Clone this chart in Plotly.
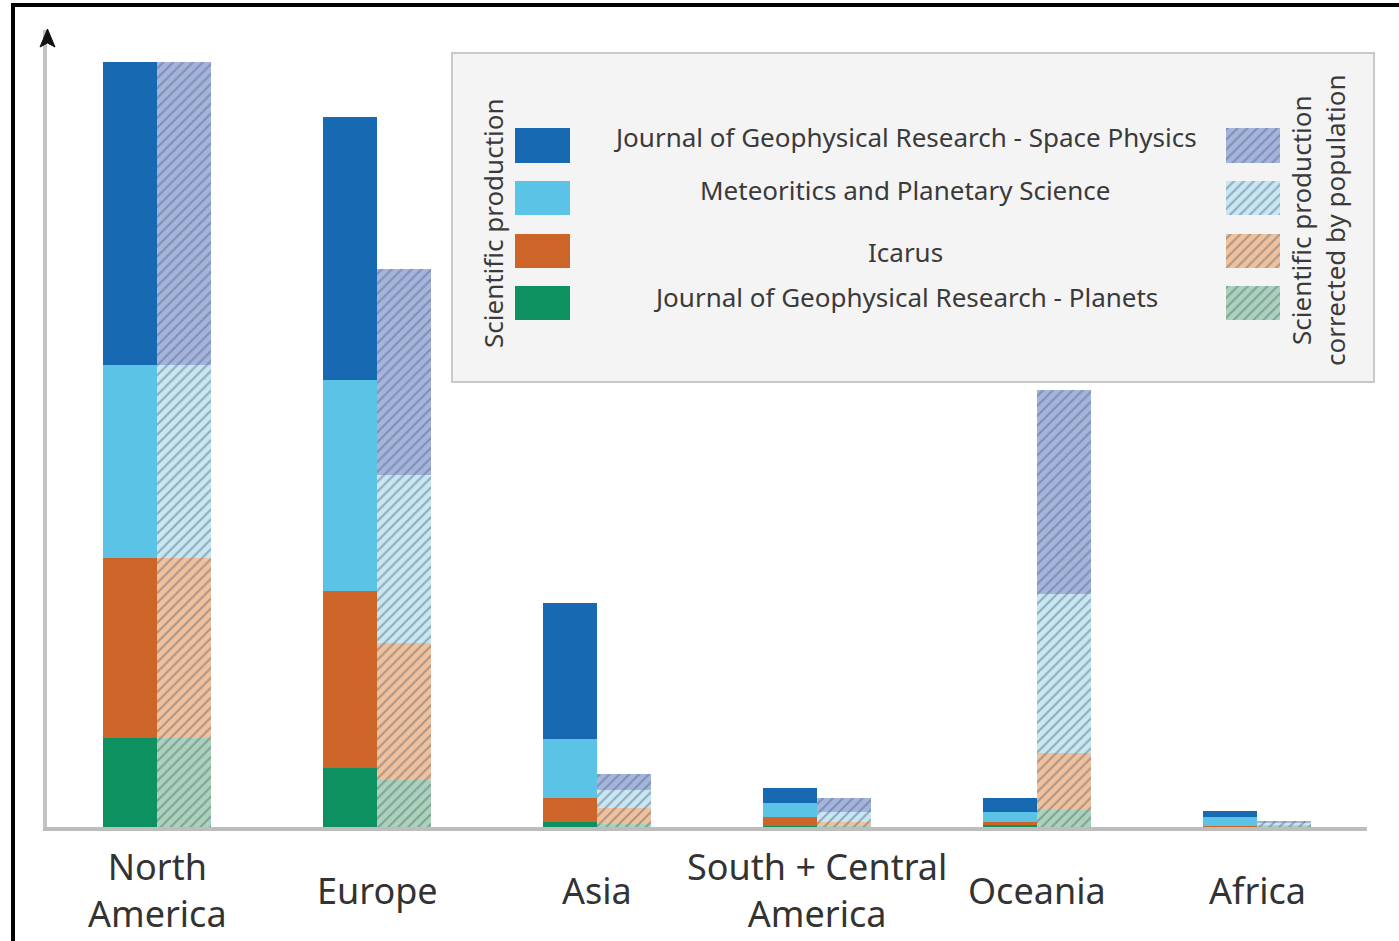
import numpy as np
import plotly.graph_objects as go

W, H = 1399, 941
# plot area in pixels
L, R, T, B = 47, 1367, 30, 827

regions = ["North<br>America", "Europe", "Asia", "South + Central<br>America", "Oceania", "Africa"]
series = ["Journal of Geophysical Research - Planets", "Icarus",
          "Meteoritics and Planetary Science", "Journal of Geophysical Research - Space Physics"]

# relative units (stack order bottom -> top)
jgr_planets_raw = [89, 59, 5, 1, 2, 0.5]
icarus_raw = [180, 177, 24, 9, 3, 0.5]
maps_raw = [193, 211, 59, 14, 10, 9]
jgr_space_raw = [303, 263, 136, 15, 14, 6]

jgr_planets_pop = [89, 47, 3, 1, 17, 1]
icarus_pop = [180, 137, 16, 4, 57, 1]
maps_pop = [193, 168, 18, 10, 159, 2]
jgr_space_pop = [303, 206, 16, 14, 204, 2]

solid_colors = ["#0d9160", "#cd6428", "#5bc4e6", "#1769b2"]
hatch_colors = ["#a9d3bb", "#f1c19c", "#c6e7f4", "#a3b5df"]
hatch_line = "#5f6979"

fig = go.Figure()

def px_x(p):
    return (p - L) / (R - L)

def px_y(p):
    return (B - p) / (B - T)

bw = 54 / 220.0
raw = [jgr_planets_raw, icarus_raw, maps_raw, jgr_space_raw]
pop = [jgr_planets_pop, icarus_pop, maps_pop, jgr_space_pop]

base = np.zeros(len(regions))
for i, vals in enumerate(raw):
    fig.add_trace(go.Bar(x=regions, y=vals, base=base.copy(), width=bw, offset=-bw,
                         marker=dict(color=solid_colors[i], line=dict(width=0)),
                         opacity=1, name=series[i], showlegend=False))
    base += np.array(vals)

base = np.zeros(len(regions))
for i, vals in enumerate(pop):
    fig.add_trace(go.Bar(x=regions, y=vals, base=base.copy(), width=bw, offset=0,
                         marker=dict(color=hatch_colors[i], line=dict(width=0),
                                     pattern=dict(shape="/", fgcolor=hatch_line, size=7, solidity=0.28)),
                         opacity=1, name=series[i] + " (per capita)", showlegend=False))
    base += np.array(vals)

# legend swatches on an overlay axis (pixel units)
sw_top = [128, 181, 234, 286]
sw_h = [35, 34, 34, 34]
for i in range(4):
    k = 3 - i
    fig.add_trace(go.Bar(x=[515], y=[sw_h[i]], base=[sw_top[i]], width=55, offset=0,
                         marker=dict(color=solid_colors[k], line=dict(width=0)),
                         xaxis="x2", yaxis="y2", showlegend=False, hoverinfo="skip"))
    fig.add_trace(go.Bar(x=[1226], y=[sw_h[i]], base=[sw_top[i]], width=54, offset=0,
                         marker=dict(color=hatch_colors[k], line=dict(width=0),
                                     pattern=dict(shape="/", fgcolor=hatch_line, size=7, solidity=0.28)),
                         xaxis="x2", yaxis="y2", showlegend=False, hoverinfo="skip"))

shapes = []
# legend box
shapes.append(dict(type="rect", xref="paper", yref="paper", layer="below",
                   x0=px_x(452), x1=px_x(1374), y0=px_y(382), y1=px_y(53),
                   fillcolor="#f4f4f4", line=dict(color="#c9c9c9", width=2)))
# outer black frame
shapes.append(dict(type="line", xref="paper", yref="paper",
                   x0=px_x(11), x1=px_x(1399), y0=px_y(5), y1=px_y(5),
                   line=dict(color="black", width=4)))
shapes.append(dict(type="line", xref="paper", yref="paper",
                   x0=px_x(13), x1=px_x(13), y0=px_y(941), y1=px_y(3),
                   line=dict(color="black", width=4)))
# y-axis arrow head
path = "M {} {} L {} {} L {} {} L {} {} Z".format(
    px_x(47.5), px_y(29), px_x(40), px_y(47), px_x(47.5), px_y(43), px_x(55), px_y(47))
shapes.append(dict(type="path", xref="paper", yref="paper", path=path,
                   fillcolor="#111111", line=dict(color="#111111", width=1)))

ann = []
font_lbl = dict(family="Noto Sans, Roboto", size=36, color="#333333")
for r in regions:
    ann.append(dict(x=r, y=px_y(890), xref="x", yref="paper", text=r, showarrow=False,
                    xanchor="center", yanchor="middle", font=font_lbl))

font_leg = dict(family="Noto Sans, Open Sans", size=26, color="#3a3a3a")
leg_y = [137, 190, 252, 297]
for i in range(4):
    ann.append(dict(x=px_x(905), y=px_y(leg_y[i]), xref="paper", yref="paper",
                    text=series[3 - i], showarrow=False, xanchor="center", yanchor="middle",
                    font=font_leg))
ann.append(dict(x=px_x(493), y=px_y(223), xref="paper", yref="paper",
                text="Scientific production", textangle=-90, showarrow=False,
                xanchor="center", yanchor="middle", font=font_leg))
ann.append(dict(x=px_x(1318), y=px_y(220), xref="paper", yref="paper",
                text="Scientific production<br>corrected by population", textangle=-90,
                showarrow=False, xanchor="center", yanchor="middle", font=font_leg))

fig.update_layout(
    width=W, height=H,
    margin=dict(l=L, r=W - R, t=T, b=H - B, autoexpand=False),
    paper_bgcolor="white", plot_bgcolor="rgba(0,0,0,0)",
    barmode="overlay",
    xaxis=dict(range=[-0.5, 5.5], showticklabels=False, ticks="", showgrid=False,
               showline=True, linecolor="#bdbdbd", linewidth=4, zeroline=False, fixedrange=True),
    yaxis=dict(range=[0, B - T], showticklabels=False, ticks="", showgrid=False,
               showline=True, linecolor="#c4c4c4", linewidth=4, zeroline=False, fixedrange=True),
    xaxis2=dict(domain=[px_x(515), px_x(1280)], range=[515, 1280], visible=False,
                anchor="y2", fixedrange=True),
    yaxis2=dict(domain=[px_y(320), px_y(128)], range=[320, 128], visible=False,
                anchor="x2", fixedrange=True),
    shapes=shapes, annotations=ann, showlegend=False,
)

fig.write_html("out.html", config={"displayModeBar": False},
               post_script="document.body.style.margin='0';document.body.style.overflow='hidden';")
